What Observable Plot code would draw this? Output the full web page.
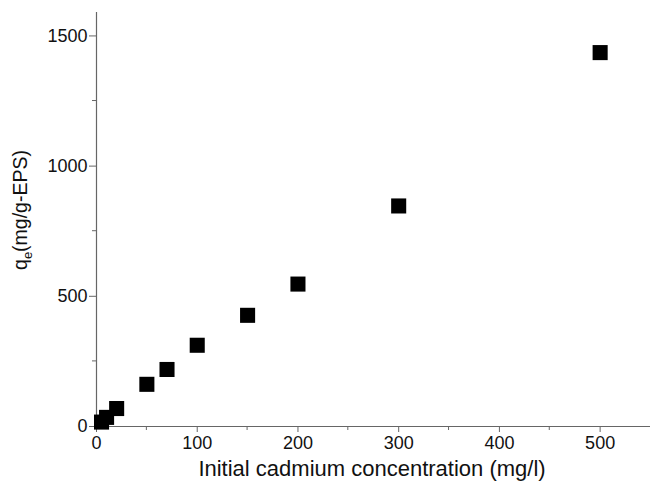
<!DOCTYPE html>
<html><head><meta charset="utf-8">
<script src="https://cdn.jsdelivr.net/npm/d3@7"></script>
<script src="https://cdn.jsdelivr.net/npm/@observablehq/plot@0.6"></script>
<style>body{margin:0;background:#fff;} svg{display:block;}</style>
</head><body><div id="chart"></div>
<script>
const concentration = [5, 10, 20, 50, 70, 100, 150, 200, 300, 500];
const qe = [17, 35, 69, 162, 219, 312, 427, 547, 847, 1436];
const xMajor = [0, 100, 200, 300, 400, 500];
const xMinor = [50, 150, 250, 350, 450];
const yMajor = [0, 500, 1000, 1500];
const yMinor = [250, 750, 1250];
const xLabel = "Initial cadmium concentration (mg/l)";
const yLabelMain = "q";
const yLabelSub = "e";
const yLabelRest = "(mg/g-EPS)";

const data = concentration.map((c, i) => ({c, q: qe[i]}));
const axisColor = "#666";
const font = "Liberation Sans, Arial, sans-serif";

const plot = Plot.plot({
  width: 651, height: 481,
  marginLeft: 96, marginBottom: 55, marginTop: 12, marginRight: 1,
  style: {fontFamily: font, fontSize: "18px", color: "#111", background: "#fff"},
  x: {domain: [0, 550], label: null},
  y: {domain: [0, 1590], label: null},
  marks: [
    Plot.axisX({ticks: xMajor, tickFormat: "d", tickSize: 6, tickPadding: 4, stroke: axisColor, fontSize: 18, fill: "#111"}),
    Plot.axisY({ticks: yMajor, tickFormat: "d", tickSize: 7, tickPadding: 2, stroke: axisColor, fontSize: 18, fill: "#111"}),
    Plot.ruleX([0], {stroke: axisColor, strokeWidth: 1.2}),
    Plot.ruleY([0], {stroke: axisColor, strokeWidth: 1.2}),
    Plot.dot(data, {x: "c", y: "q", symbol: "square", r: 8.5, fill: "#000", stroke: "none"})
  ]
});
const sx = plot.scale("x"), sy = plot.scale("y");
const svg = d3.select(plot);
const g = svg.append("g").attr("stroke", axisColor).attr("stroke-width", 1);
xMinor.forEach(v => g.append("line").attr("x1", sx.apply(v)).attr("x2", sx.apply(v)).attr("y1", sy.apply(0)).attr("y2", sy.apply(0) + 4));
yMinor.forEach(v => g.append("line").attr("y1", sy.apply(v)).attr("y2", sy.apply(v)).attr("x1", sx.apply(0)).attr("x2", sx.apply(0) - 4));
// axis labels
svg.append("text").attr("x", 372).attr("y", 476).attr("text-anchor", "middle")
  .attr("font-family", font).attr("font-size", 22).attr("fill", "#111").text(xLabel);
const yl = svg.append("text").attr("transform", "translate(27,210) rotate(-90)").attr("text-anchor", "middle")
  .attr("font-family", font).attr("font-size", 19.5).attr("fill", "#111");
yl.append("tspan").text(yLabelMain);
yl.append("tspan").attr("font-size", 13).attr("dy", 5).text(yLabelSub);
yl.append("tspan").attr("dy", -5).text(yLabelRest);
document.getElementById("chart").appendChild(plot);
</script></body></html>
